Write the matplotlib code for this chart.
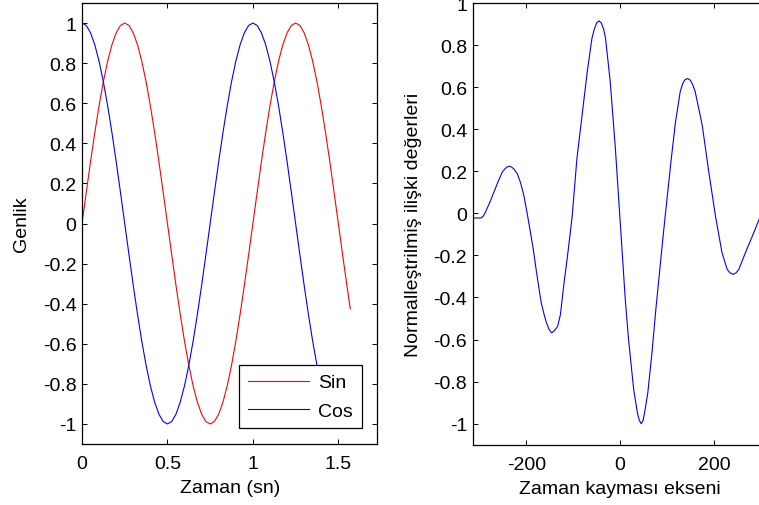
import matplotlib
matplotlib.use("Agg")
import matplotlib.pyplot as plt
from matplotlib.ticker import FixedLocator, FuncFormatter

plt.rcParams['font.family'] = ['Liberation Sans', 'DejaVu Sans']
plt.rcParams['axes.unicode_minus'] = False

# ---- Left panel data ----
t = [0.000, 0.025, 0.050, 0.075, 0.100, 0.125, 0.150, 0.175, 0.200, 0.225,
     0.250, 0.275, 0.300, 0.325, 0.350, 0.375, 0.400, 0.425, 0.450, 0.475,
     0.500, 0.525, 0.550, 0.575, 0.600, 0.625, 0.650, 0.675, 0.700, 0.725,
     0.750, 0.775, 0.800, 0.825, 0.850, 0.875, 0.900, 0.925, 0.950, 0.975,
     1.000, 1.025, 1.050, 1.075, 1.100, 1.125, 1.150, 1.175, 1.200, 1.225,
     1.250, 1.275, 1.300, 1.325, 1.350, 1.375, 1.400, 1.425, 1.450, 1.475,
     1.500, 1.525, 1.550, 1.570]
sin_vals = [0, .156, .309, .454, .588, .707, .809, .891, .951, .988,
            1, .988, .951, .891, .809, .707, .588, .454, .309, .156,
            0, -.156, -.309, -.454, -.588, -.707, -.809, -.891, -.951, -.988,
            -1, -.988, -.951, -.891, -.809, -.707, -.588, -.454, -.309, -.156,
            0, .156, .309, .454, .588, .707, .809, .891, .951, .988,
            1, .988, .951, .891, .809, .707, .588, .454, .309, .156,
            0, -.156, -.309, -.426]
cos_vals = [1, .988, .951, .891, .809, .707, .588, .454, .309, .156,
            0, -.156, -.309, -.454, -.588, -.707, -.809, -.891, -.951, -.988,
            -1, -.988, -.951, -.891, -.809, -.707, -.588, -.454, -.309, -.156,
            0, .156, .309, .454, .588, .707, .809, .891, .951, .988,
            1, .988, .951, .891, .809, .707, .588, .454, .309, .156,
            0, -.156, -.309, -.454, -.588, -.707, -.809, -.891, -.951, -.988,
            -1, -.988, -.951, -.905]

# ---- Right panel data ----
lags = [-314, -296, -291, -287, -278, -269, -260, -251, -246, -241, -236, -231,
        -226, -219, -212, -205, -198, -191, -185, -180, -174, -168, -162, -157,
        -151, -146, -142, -139, -133, -127, -120, -113, -106, -102, -92, -81,
        -70, -60, -55, -50, -45, -40, -35, -31, -21, -10, -3, 4, 11, 18, 29,
        37, 41, 45, 49, 52, 59, 68, 76, 84, 92, 100, 109, 118, 128, 133, 138,
        144, 150, 155, 160, 175, 189, 203, 217, 228, 234, 241, 247, 253,
        270, 285, 295, 300]
corr = [-0.022, -0.022, -0.012, 0.005, 0.05, 0.10, 0.15, 0.196, 0.210, 0.220,
        0.224, 0.220, 0.210, 0.188, 0.145, 0.084, 0.0, -0.09, -0.17, -0.25,
        -0.34, -0.425, -0.48, -0.52, -0.553, -0.568, -0.562, -0.555, -0.537,
        -0.48, -0.34, -0.22, -0.09, -0.011, 0.26, 0.466, 0.673, 0.832, 0.875,
        0.905, 0.915, 0.905, 0.875, 0.832, 0.625, 0.307, 0.068, -0.17, -0.409,
        -0.60, -0.839, -0.95, -0.985, -1.0, -0.985, -0.95, -0.854, -0.66,
        -0.46, -0.28, -0.10, 0.07, 0.259, 0.434, 0.578, 0.615, 0.635, 0.641,
        0.632, 0.610, 0.578, 0.418, 0.196, -0.011, -0.186, -0.266, -0.283,
        -0.29, -0.283, -0.266, -0.17, -0.091, -0.035, -0.01]

left_xticks = [0, 0.5, 1, 1.5]
yticks = [-1, -0.8, -0.6, -0.4, -0.2, 0, 0.2, 0.4, 0.6, 0.8, 1]
right_xticks = [-200, 0, 200]

FS = 14
fig = plt.figure(figsize=(7.59, 5.06), dpi=100)
fmt = FuncFormatter(lambda v, p: ('%g' % round(v, 6)))

def style(ax):
    ax.tick_params(direction='in', length=3.6, width=0.7, top=True, right=True,
                   labelsize=FS, colors='black')
    ax.tick_params(axis='y', pad=4)
    ax.tick_params(axis='x', pad=8)
    for s in ax.spines.values():
        s.set_linewidth(0.9)
    ax.xaxis.set_major_formatter(fmt)
    ax.yaxis.set_major_formatter(fmt)

ax1 = fig.add_axes([82/759, 1-445/506, (377.3-82)/759, 441/506])
ax1.plot(t, sin_vals, color='#ff0000', lw=0.8, label='Sin')
ax1.plot(t, cos_vals, color='#0000ff', lw=0.8, label='Cos')
ax1.set_xlim(0, 1.728)
ax1.set_ylim(-1.1, 1.1)
ax1.xaxis.set_major_locator(FixedLocator(left_xticks))
ax1.yaxis.set_major_locator(FixedLocator(yticks))
style(ax1)
ax1.set_xlabel('Zaman (sn)', fontsize=FS, labelpad=5)
ax1.set_ylabel('Genlik', fontsize=FS, labelpad=9)
leg = ax1.legend(loc='lower right', fontsize=FS, fancybox=False, framealpha=1,
                 edgecolor='black', borderaxespad=0.8, handlelength=3.1,
                 handletextpad=0.5, borderpad=0.45, labelspacing=0.55)
leg.get_frame().set_linewidth(0.9)

ax2 = fig.add_axes([472.7/759, 1-445.7/506, 294.8/759, 441.7/506])
ax2.plot(lags, corr, color='#0000ff', lw=0.8)
ax2.set_xlim(-314, 314)
ax2.set_ylim(-1.1, 1.0)
ax2.xaxis.set_major_locator(FixedLocator(right_xticks))
ax2.yaxis.set_major_locator(FixedLocator(yticks))
style(ax2)
ax2.set_xlabel('Zaman kayması ekseni', fontsize=FS, labelpad=5)
ax2.set_ylabel('Normalleştrilmiş ilişki değerleri', fontsize=FS, labelpad=8)

fig.savefig('out.png', dpi=100)
